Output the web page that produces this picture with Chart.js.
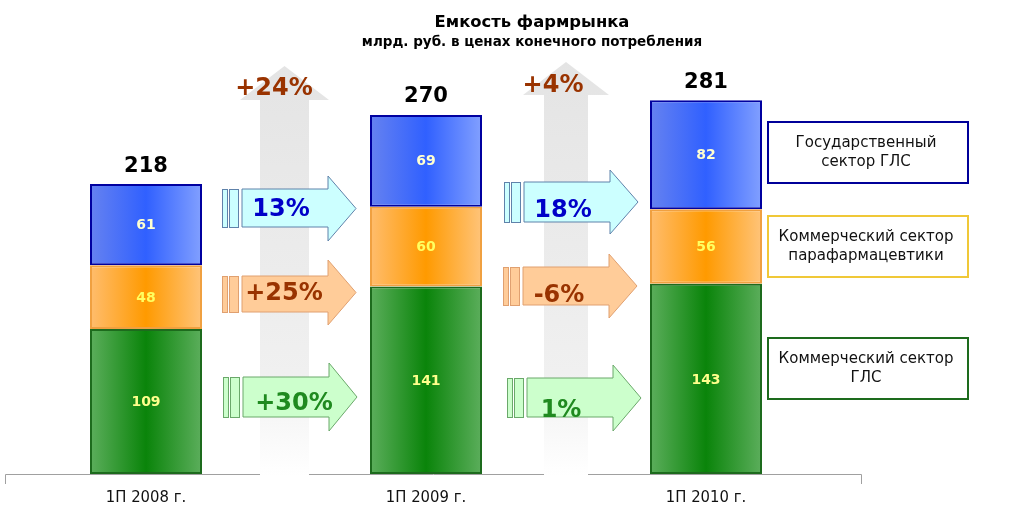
<!DOCTYPE html>
<html><head><meta charset="utf-8">
<script src="https://cdn.jsdelivr.net/npm/chart.js@4"></script>
<style>html,body{margin:0;padding:0;background:#fff}#wrap{width:1024px;height:514px;position:relative}</style>
</head><body><div id="wrap"><canvas id="c"></canvas></div>
<script>
// ---- data ----
const categories = ['1П 2008 г.', '1П 2009 г.', '1П 2010 г.'];
const commGLS  = [109, 141, 143];
const commPara = [48, 60, 56];
const govGLS   = [61, 69, 82];
const totals   = [218, 270, 281];
const growthTotal = ['+24%', '+4%'];
const growthGov   = ['13%', '18%'];
const growthPara  = ['+25%', '-6%'];
const growthComm  = ['+30%', '1%'];
const legendLines = [['Государственный', 'сектор ГЛС'], ['Коммерческий сектор', 'парафармацевтики'], ['Коммерческий сектор', 'ГЛС']];
const titleText = 'Емкость фармрынка';
const subtitleText = 'млрд. руб. в ценах конечного потребления';

const FONT = '"DejaVu Sans", Verdana, sans-serif';

function barGrad(stops) {
  return function (ctx) {
    const chart = ctx.chart, x = chart.scales.x;
    if (!x || !chart.chartArea || ctx.dataIndex === undefined) return stops[1];
    const c = x.getPixelForValue(ctx.dataIndex);
    const w = x.width / categories.length * 0.4;
    const g = chart.ctx.createLinearGradient(c - w / 2, 0, c + w / 2, 0);
    g.addColorStop(0, stops[0]); g.addColorStop(0.5, stops[1]); g.addColorStop(1, stops[2]);
    return g;
  };
}

const seriesStyle = [
  { grad: ['#5cae5c', '#0a840a', '#5cae5c'], border: '#1d6b1d', label: '#ffff8c' },
  { grad: ['#ffbd6e', '#ff9a00', '#ffc47a'], border: '#f0a040', label: '#ffff60' },
  { grad: ['#6682f0', '#3060ff', '#82a0ff'], border: '#0000a0', label: '#ffffd0' }
];

function hArrow(ctx, gc, dx, yt, yb, ht, hb, fill, stroke) {
  const r1 = gc - 64 + dx, r2 = gc - 57 + dx, b0 = gc - 44 + dx, h0 = gc + 42 + dx, ap = gc + 70 + dx;
  ctx.save();
  ctx.fillStyle = fill; ctx.strokeStyle = stroke; ctx.lineWidth = 1;
  ctx.fillRect(r1, yt, 5, yb - yt); ctx.strokeRect(r1 + 0.5, yt + 0.5, 5, yb - yt);
  ctx.fillRect(r2, yt, 9, yb - yt); ctx.strokeRect(r2 + 0.5, yt + 0.5, 9, yb - yt);
  ctx.beginPath();
  ctx.moveTo(b0, yt); ctx.lineTo(h0, yt); ctx.lineTo(h0, ht); ctx.lineTo(ap, (ht + hb) / 2);
  ctx.lineTo(h0, hb); ctx.lineTo(h0, yb); ctx.lineTo(b0, yb); ctx.closePath();
  ctx.fill(); ctx.stroke();
  ctx.restore();
}

function vArrow(ctx, cx, apexY, headY, wingHalf, bodyHalf, bottom) {
  ctx.save();
  const g = ctx.createLinearGradient(0, apexY, 0, bottom);
  g.addColorStop(0, '#e4e4e4'); g.addColorStop(0.75, '#f0f0f0'); g.addColorStop(1, '#ffffff');
  ctx.fillStyle = g;
  ctx.beginPath();
  ctx.moveTo(cx, apexY); ctx.lineTo(cx + wingHalf, headY); ctx.lineTo(cx + bodyHalf, headY);
  ctx.lineTo(cx + bodyHalf, bottom); ctx.lineTo(cx - bodyHalf, bottom); ctx.lineTo(cx - bodyHalf, headY);
  ctx.lineTo(cx - wingHalf, headY); ctx.closePath(); ctx.fill();
  ctx.restore();
}

function text(ctx, s, x, y, font, color) {
  ctx.save(); ctx.font = font; ctx.fillStyle = color; ctx.textAlign = 'center'; ctx.textBaseline = 'middle';
  ctx.fillText(s, x, y); ctx.restore();
}

const decor = {
  id: 'decor',
  beforeDatasetsDraw(chart) {
    const ctx = chart.ctx, a = chart.chartArea, x = chart.scales.x;
    ctx.save(); ctx.strokeStyle = '#a0a0a0'; ctx.lineWidth = 1;
    ctx.beginPath(); ctx.moveTo(5.5, a.bottom + 10); ctx.lineTo(5.5, a.bottom + 0.5);
    ctx.lineTo(861.5, a.bottom + 0.5); ctx.lineTo(861.5, a.bottom + 10); ctx.stroke(); ctx.restore();
    const gc0 = (x.getPixelForValue(0) + x.getPixelForValue(1)) / 2;
    const gc1 = (x.getPixelForValue(1) + x.getPixelForValue(2)) / 2;
    vArrow(ctx, gc0 - 1.5, 66, 100, 44.5, 24.5, a.bottom + 2);
    vArrow(ctx, gc1, 62, 95, 43, 22, a.bottom + 2);
  },
  afterDatasetsDraw(chart) {
    const ctx = chart.ctx, x = chart.scales.x;
    const gc0 = (x.getPixelForValue(0) + x.getPixelForValue(1)) / 2;
    const gc1 = (x.getPixelForValue(1) + x.getPixelForValue(2)) / 2;
    const blueF = '#ccffff', blueS = '#5f82aa', orF = '#ffcc99', orS = '#e0a070', grF = '#ccffcc', grS = '#6aa86a';
    hArrow(ctx, gc0, 0, 189, 227, 176, 241, blueF, blueS);
    hArrow(ctx, gc0, 0, 276, 312, 260, 325, orF, orS);
    hArrow(ctx, gc0, 1, 377, 417, 363, 431, grF, grS);
    hArrow(ctx, gc1, 2, 182, 222, 170, 234, blueF, blueS);
    hArrow(ctx, gc1, 1, 267, 305, 254, 318, orF, orS);
    hArrow(ctx, gc1, 5, 378, 417, 365, 431, grF, grS);
    const pf = 'bold 24px ' + FONT;
    text(ctx, growthGov[0], gc0 - 5, 210, pf, '#0000c8');
    text(ctx, growthPara[0], gc0 - 2, 294, pf, '#993300');
    text(ctx, growthComm[0], gc0 + 8, 404, pf, '#1f8a1f');
    text(ctx, growthGov[1], gc1 - 3, 211, pf, '#0000c8');
    text(ctx, growthPara[1], gc1 - 7, 296, pf, '#993300');
    text(ctx, growthComm[1], gc1 - 5, 411, pf, '#1f8a1f');
    text(ctx, growthTotal[0], gc0 - 12, 89, pf, '#993300');
    text(ctx, growthTotal[1], gc1 - 13, 86, pf, '#993300');

    chart.data.datasets.forEach((ds, di) => {
      const meta = chart.getDatasetMeta(di);
      meta.data.forEach((el, i) => {
        text(ctx, String(ds.data[i]), el.x, (el.y + el.base) / 2 + 1, 'bold 14px ' + FONT, seriesStyle[di].label);
      });
    });
    const top = chart.getDatasetMeta(chart.data.datasets.length - 1);
    top.data.forEach((el, i) => text(ctx, String(totals[i]), el.x, el.y - 18, 'bold 21px ' + FONT, '#000'));

    const boxes = [[122, 183, '#000099'], [216, 277, '#f0c838'], [338, 399, '#1d6b1d']];
    boxes.forEach((b, i) => {
      ctx.save(); ctx.strokeStyle = b[2]; ctx.lineWidth = 2;
      ctx.strokeRect(768, b[0], 200, b[1] - b[0]); ctx.restore();
      const mid = (b[0] + b[1]) / 2;
      text(ctx, legendLines[i][0], 866, mid - 9, '15px ' + FONT, '#111');
      text(ctx, legendLines[i][1], 866, mid + 10, '15px ' + FONT, '#111');
    });
    text(ctx, titleText, 532, 23, 'bold 16.4px ' + FONT, '#000');
    text(ctx, subtitleText, 532, 42, 'bold 13.5px ' + FONT, '#000');
  }
};

const series = [commGLS, commPara, govGLS];
new Chart(document.getElementById('c'), {
  type: 'bar',
  data: {
    labels: categories,
    datasets: series.map((d, i) => ({
      data: d,
      backgroundColor: barGrad(seriesStyle[i].grad),
      borderColor: seriesStyle[i].border,
      borderWidth: 2,
      borderSkipped: false,
      barPercentage: 0.4,
      categoryPercentage: 1
    }))
  },
  options: {
    responsive: true, maintainAspectRatio: false, animation: false,
    layout: { padding: { left: 6, right: 178, top: 75, bottom: 0 } },
    plugins: { legend: { display: false }, tooltip: { enabled: false }, title: { display: false } },
    scales: {
      x: {
        stacked: true,
        grid: { display: false, drawTicks: false },
        border: { display: false },
        afterFit(axis) { axis.height = 40; },
        ticks: { padding: 14, color: '#111', font: { family: '"DejaVu Sans Condensed", "DejaVu Sans", sans-serif', size: 16.5 } }
      },
      y: { stacked: true, display: false, min: 0, max: 300 }
    }
  },
  plugins: [decor]
});
</script>
</body></html>
